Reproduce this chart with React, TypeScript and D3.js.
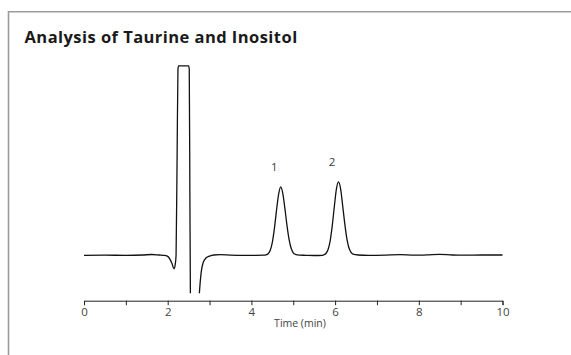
import * as d3 from "d3";
import React, { useRef, useEffect } from "react";

const width = 571;
const height = 355;

// chromatogram trace, time (min) and detector response
const times = [
  0, 0.5, 1.0, 1.4, 1.62, 1.8, 1.9, 1.98, 2.05, 2.1, 2.15, 2.18, 2.2, 2.225,
  2.245, 2.26, 2.5, 2.515, 2.53, 2.545, 2.57, 2.68, 2.73, 2.76, 2.8, 2.85, 2.92,
  3.0, 3.1, 3.25, 3.5, 3.8, 4.1, 4.3, 4.35, 4.4, 4.45, 4.5, 4.55, 4.6, 4.65, 4.7,
  4.75, 4.8, 4.85, 4.9, 4.95, 5.0, 5.05, 5.15, 5.3, 5.5, 5.7, 5.73, 5.78, 5.83,
  5.88, 5.93, 5.98, 6.03, 6.08, 6.13, 6.18, 6.23, 6.28, 6.33, 6.38, 6.43, 6.55,
  6.8, 7.2, 7.55, 7.9, 8.2, 8.5, 8.8, 9.1, 9.5, 10,
];
const signal = [
  0, 0.1, 0, 0.3, 0.8, 0.3, 0, -0.6, -3.5, -8, -13.5, -9, 0, 100, 186, 189.5,
  189.5, 186, 60, -60, -160, -140, -60, -36, -17, -7, -2.5, -0.8, 0.3, 0.6, 0.2,
  0, 0, 0.1, 0.5, 1.6, 5, 13, 27, 45, 61, 68.5, 62, 47, 30, 16, 7, 2.5, 1, 0.2,
  0, -0.2, 0, 0.5, 1.8, 5.5, 14, 29, 48, 66, 73.5, 67, 50, 32, 17, 7.5, 3, 1.2,
  0.3, 0, 0.2, 0.6, 0.1, 0.4, 1.0, 0.3, 0.1, 0.3, 0.3,
];

const peakNames = ["1", "2"];
const peakTimes = [4.7, 6.08];
const peakHeights = [68.5, 73.5];

const xTicks = [0, 1, 2, 3, 4, 5, 6, 7, 8, 9, 10];
const xTickLabels = ["0", "", "2", "", "4", "", "6", "", "8", "", "10"];

const title = "Analysis of Taurine and Inositol";
const xTitle = "Time (min)";

const font = "'Open Sans', sans-serif";

function App() {
  const ref = useRef(null);

  useEffect(() => {
    const svg = d3.select(ref.current);
    svg.selectAll("*").remove();

    const x = d3.scaleLinear().domain([0, 10]).range([84, 502.5]);
    const y = d3.scaleLinear().domain([-38, 190]).range([293.3, 65.3]);

    // frame (left + top only)
    svg
      .append("path")
      .attr("d", `M8.5,${height} V11.7 H${width}`)
      .attr("fill", "none")
      .attr("stroke", "#9b9b9b")
      .attr("stroke-width", 1.6);

    svg
      .append("text")
      .attr("x", 24.5)
      .attr("y", 42.5)
      .style("font-family", font)
      .style("font-weight", "bold")
      .style("font-size", "16.5px")
      .style("letter-spacing", "0.45px")
      .attr("fill", "#1a1a1a")
      .text(title);

    // clip
    svg
      .append("clipPath")
      .attr("id", "traceClip")
      .append("rect")
      .attr("x", x(0) - 2)
      .attr("y", y(190) - 3)
      .attr("width", x(10) - x(0) + 4)
      .attr("height", y(-38) - y(190) + 3);

    const pts: [number, number][] = times.map((t, i) => [t, signal[i]]);
    const line = d3
      .line<[number, number]>()
      .x((d) => x(d[0]))
      .y((d) => y(d[1]))
      .curve(d3.curveMonotoneX);

    svg
      .append("path")
      .datum(pts)
      .attr("clip-path", "url(#traceClip)")
      .attr("fill", "none")
      .attr("stroke", "#111")
      .attr("stroke-width", 1.3)
      .attr("stroke-linejoin", "round")
      .attr("d", line);

    // peak labels
    svg
      .selectAll(".peakLabel")
      .data(peakNames)
      .join("text")
      .attr("class", "peakLabel")
      .attr("x", (d, i) => x(peakTimes[i]) - 6.5)
      .attr("y", (d, i) => y(peakHeights[i]) - 15.5)
      .attr("text-anchor", "middle")
      .style("font-family", font)
      .style("font-size", "11.5px")
      .attr("fill", "#3a3a3a")
      .text((d) => d);

    // x axis
    const axis = svg
      .append("g")
      .attr("transform", "translate(0,300.7)")
      .call(
        d3
          .axisBottom(x)
          .tickValues(xTicks)
          .tickSize(4.5)
          .tickPadding(3)
          .tickFormat((d, i) => xTickLabels[i])
      );
    axis.selectAll("path, line").attr("stroke", "#222").attr("stroke-width", 1);
    axis
      .selectAll("text")
      .style("font-family", font)
      .style("font-size", "11.5px")
      .attr("fill", "#444");

    svg
      .append("text")
      .attr("x", 300)
      .attr("y", 327)
      .attr("text-anchor", "middle")
      .style("font-family", font)
      .style("font-size", "10.5px")
      .attr("fill", "#444")
      .text(xTitle);
  }, []);

  return (
    <svg
      ref={ref}
      width={width}
      height={height}
      style={{ position: "absolute", left: 0, top: 0, background: "#fff" }}
    ></svg>
  );
}

export default App;
